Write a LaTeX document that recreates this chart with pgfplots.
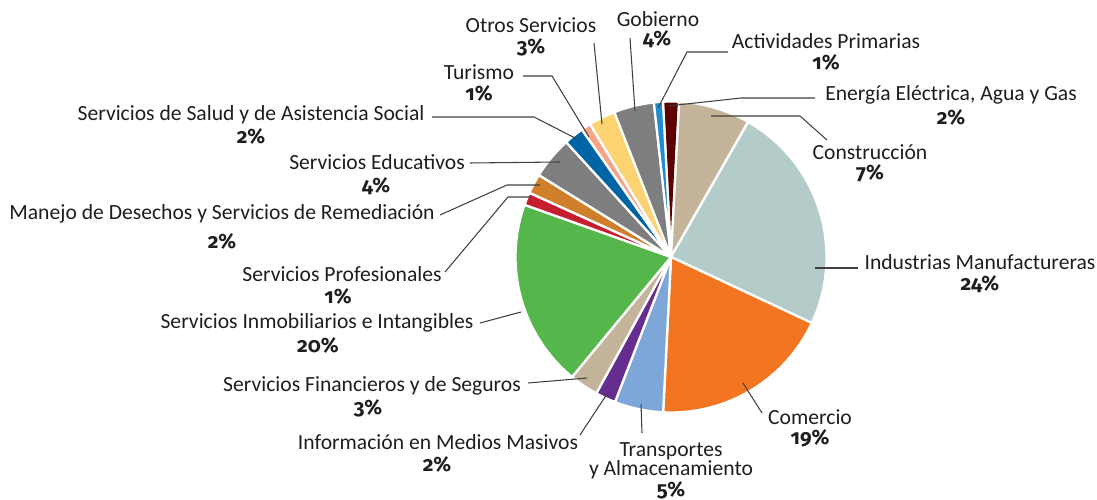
\documentclass[border=0pt]{standalone}
\usepackage{fontspec}
\setmainfont{Carlito}
\newfontfamily\pctfam{Fira Sans}[Numbers=OldStyle]
\usepackage{pgfplots}
\pgfplotsset{compat=1.18}
\usepackage{pgfplotstable}

\definecolor{txt}{HTML}{1E1E1E}
\definecolor{cEne}{HTML}{5C0000}
\definecolor{cCon}{HTML}{C4B49A}
\definecolor{cInd}{HTML}{B4CCC9}
\definecolor{cCom}{HTML}{F27622}
\definecolor{cTra}{HTML}{7DA7D8}
\definecolor{cInf}{HTML}{662D91}
\definecolor{cFin}{HTML}{C4B49A}
\definecolor{cInm}{HTML}{55B74B}
\definecolor{cPro}{HTML}{C51F2F}
\definecolor{cMan}{HTML}{CF7F2A}
\definecolor{cEdu}{HTML}{7E7E80}
\definecolor{cSal}{HTML}{0065A4}
\definecolor{cTur}{HTML}{F5A48A}
\definecolor{cOtr}{HTML}{FDD270}
\definecolor{cGob}{HTML}{7E7E80}
\definecolor{cAct}{HTML}{1E8CCF}

\tikzset{leader/.style={draw=txt!85, line width=0.6pt}}

% shares in percent, clockwise from the top
\pgfplotstableread{
value col
1.67  cEne
7.42  cCon
23.72 cInd
18.83 cCom
5.06  cTra
2.11  cInf
3.00  cFin
19.47 cInm
1.33  cPro
2.06  cMan
4.39  cEdu
2.06  cSal
1.00  cTur
2.78  cOtr
4.17  cGob
0.94  cAct
}\piedata

\newcommand\lblfont{\fontsize{12.3}{14}\selectfont}
\newcommand\pctfont{\fontsize{11.8}{14}\selectfont\pctfam\bfseries}
\newcommand\pp[2]{(axis cs:{#1/50},{(499-#2)/50})}
\newcommand\lbl[3]{\node[font=\lblfont,text=txt,inner sep=0pt] at \pp{#1}{#2} {#3};}
\newcommand\pct[3]{\node[font=\pctfont,text=txt,inner sep=0pt] at \pp{#1}{#2} {#3\%};}

\begin{document}
\begin{tikzpicture}
\begin{axis}[
  x=1cm, y=1cm,
  xmin=0, xmax=21.94, ymin=0, ymax=9.98,
  hide axis, clip=false,
]
\pgfplotstablegetrowsof{\piedata}
\pgfmathtruncatemacro{\nrows}{\pgfplotsretval-1}
\xdef\cumang{93}
\pgfplotsforeachungrouped \i in {0,...,\nrows}{%
  \pgfplotstablegetelem{\i}{value}\of\piedata \let\sliceval\pgfplotsretval
  \pgfplotstablegetelem{\i}{col}\of\piedata \let\slicecol\pgfplotsretval
  \pgfmathsetmacro{\angA}{\cumang}%
  \pgfmathsetmacro{\angB}{\cumang-3.6*\sliceval}%
  \edef\temp{\noexpand\fill[fill=\slicecol, draw=white, line width=1.3pt, line join=round]
    (axis cs:13.42,4.84) -- ++(\angA:3.11) arc[start angle=\angA, end angle=\angB, radius=3.11] -- cycle;}%
  \temp
  \xdef\cumang{\angB}%
}

% leader lines
\draw[leader] \pp{594}{43} -- \pp{602}{124};
\draw[leader] \pp{630}{38} -- \pp{635}{111};
\draw[leader] \pp{728}{52} -- \pp{687}{52} -- \pp{658}{108};
\draw[leader] \pp{815}{98} -- \pp{741}{98} -- \pp{668}{106};
\draw[leader] \pp{711}{116} -- \pp{800}{116} -- \pp{827}{140};
\draw[leader] \pp{815}{268} -- \pp{858}{268};
\draw[leader] \pp{743}{383} -- \pp{762}{413};
\draw[leader] \pp{641}{404} -- \pp{642}{433};
\draw[leader] \pp{607}{394} -- \pp{580}{435};
\draw[leader] \pp{587}{378} -- \pp{528}{383};
\draw[leader] \pp{521}{312} -- \pp{480}{323};
\draw[leader] \pp{532}{197} -- \pp{508}{197} -- \pp{445}{272};
\draw[leader] \pp{540}{185} -- \pp{507}{185} -- \pp{440}{215};
\draw[leader] \pp{470}{163} -- \pp{560}{162};
\draw[leader] \pp{432}{117} -- \pp{534}{117} -- \pp{577}{139};
\draw[leader] \pp{523}{76} -- \pp{552}{76} -- \pp{589}{137};

% labels
\lbl{531}{25}{Otros Servicios}            \pct{531}{47}{3}
\lbl{658}{19}{Gobierno}                   \pct{657}{39}{4}
\lbl{826}{41}{Actividades Primarias}      \pct{826}{62}{1}
\lbl{951}{95}{Energía Eléctrica, Agua y Gas} \pct{951}{117}{2}
\lbl{870}{152}{Construcción}              \pct{870}{173}{7}
\lbl{980}{262}{Industrias Manufactureras} \pct{980}{284}{24}
\lbl{810}{417}{Comercio}                  \pct{810}{438}{19}
\lbl{671}{451}{Transportes}
\lbl{671}{470}{y Almacenamiento}          \pct{671}{490}{5}
\lbl{438}{442}{Información en Medios Masivos} \pct{437}{464}{2}
\lbl{372}{386}{Servicios Financieros y de Seguros} \pct{368}{408}{3}
\lbl{317}{323}{Servicios Inmobiliarios e Intangibles} \pct{318}{345}{20}
\lbl{342}{274}{Servicios Profesionales}   \pct{338}{296}{1}
\lbl{222}{214}{Manejo de Desechos y Servicios de Remediación} \pct{222}{241}{2}
\lbl{377}{162}{Servicios Educativos}      \pct{376}{186}{4}
\lbl{251}{115}{Servicios de Salud y de Asistencia Social} \pct{251}{136}{2}
\lbl{479}{72}{Turismo}                    \pct{479}{93}{1}
\end{axis}
\pgfresetboundingbox
\path (0,0) rectangle (21.94,9.98);
\end{tikzpicture}
\end{document}
